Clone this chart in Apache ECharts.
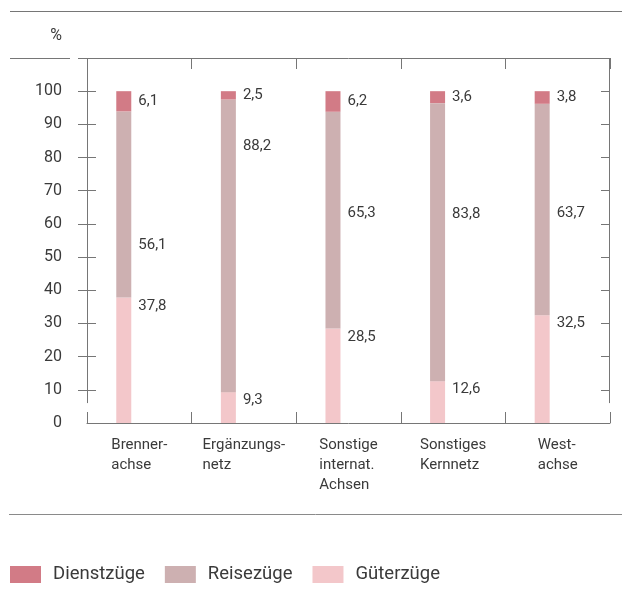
<!DOCTYPE html>
<html>
<head>
<meta charset="utf-8">
<script src="https://cdn.jsdelivr.net/npm/echarts@6/dist/echarts.min.js"></script>
<style>
  html, body { margin: 0; padding: 0; background: #fff; }
  #chart { width: 622px; height: 614px; }
</style>
</head>
<body>
<div id="chart"></div>
<script>
// Anteile der Zugarten je Netzteil, in Prozent
const categories = ['Brenner-\nachse', 'Ergänzungs-\nnetz', 'Sonstige\ninternat.\nAchsen', 'Sonstiges\nKernnetz', 'West-\nachse'];
const gueterzuege = [37.8, 9.3, 28.5, 12.6, 32.5];
const reisezuege  = [56.1, 88.2, 65.3, 83.8, 63.7];
const dienstzuege = [6.1, 2.5, 6.2, 3.6, 3.8];
const yTicks = [0, 10, 20, 30, 40, 50, 60, 70, 80, 90, 100];

const COL_DIENST = '#d27b86';
const COL_REISE = '#cdb0b1';
const COL_GUETER = '#f3c7ca';
const LINE = '#767676';
const TEXT = '#3a3a3a';
const FONT = 'Roboto, "Noto Sans", sans-serif';

const GRID = { left: 87, right: 12, top: 58, bottom: 191 };
const W = 622, H = 614;

// where the Reisezüge value sits along its segment (fraction from the top)
const reiseLabelPos = ['72%', '16%', '47%', '40%', '52%'];

const fmt = v => String(v).replace('.', ',');
const labelBase = { show: true, fontFamily: FONT, fontSize: 15, color: TEXT, formatter: p => fmt(p.value) };

const innerTicks = yTicks.filter(v => v > 0);
const outerTicks = innerTicks.concat([110]);

const chart = echarts.init(document.getElementById('chart'), null, { renderer: 'canvas' });

const option = {
  animation: false,
  backgroundColor: '#fff',
  textStyle: { fontFamily: FONT },
  grid: GRID,
  legend: {
    data: ['Dienstzüge', 'Reisezüge', 'Güterzüge'],
    left: 10, top: 565,
    icon: 'rect', itemWidth: 31, itemHeight: 17, itemGap: 20,
    padding: 0,
    textStyle: { fontFamily: FONT, fontSize: 18.5, color: TEXT, padding: [0, 0, 0, 7] }
  },
  xAxis: [
    {
      type: 'category', position: 'bottom', data: categories,
      axisLine: { onZero: false, lineStyle: { color: LINE, width: 1 } },
      axisTick: { show: true, inside: true, length: 11, lineStyle: { color: LINE } },
      axisLabel: {
        interval: 0, margin: 12,
        formatter: v => v.split('\n').map(s => '{l|' + s + '}').join('\n'),
        rich: { l: { align: 'left', fontFamily: FONT, fontSize: 15, lineHeight: 20, color: TEXT } }
      },
      splitLine: { show: false }
    },
    {
      type: 'category', position: 'top', data: categories,
      axisLine: { onZero: false, lineStyle: { color: LINE, width: 1 } },
      axisTick: { show: true, inside: true, length: 11, lineStyle: { color: LINE } },
      axisLabel: { show: false },
      splitLine: { show: false }
    }
  ],
  yAxis: [
    {
      type: 'value', position: 'left', min: 0, max: 110, interval: 10,
      name: '%', nameLocation: 'end', nameGap: 14,
      nameTextStyle: { fontFamily: FONT, fontSize: 16, color: TEXT, align: 'right', padding: [0, 25, 0, 0] },
      axisLine: { show: false },
      axisTick: { show: true, inside: false, length: 9, customValues: outerTicks, lineStyle: { color: LINE } },
      axisLabel: { customValues: yTicks, margin: 25, fontFamily: FONT, fontSize: 16, color: TEXT },
      splitLine: { show: false }
    },
    {
      type: 'value', position: 'left', min: 0, max: 110, interval: 10,
      axisLine: { show: false },
      axisTick: { show: true, inside: true, length: 9, customValues: innerTicks, lineStyle: { color: LINE } },
      axisLabel: { show: false },
      splitLine: { show: false }
    },
    {
      type: 'value', position: 'right', min: 0, max: 110, interval: 10,
      axisLine: { show: false },
      axisTick: { show: true, inside: true, length: 9, customValues: innerTicks, lineStyle: { color: LINE } },
      axisLabel: { show: false },
      splitLine: { show: false }
    }
  ],
  series: [
    {
      name: 'Güterzüge', type: 'bar', stack: 'total', barWidth: 15, barGap: '107%',
      itemStyle: { color: COL_GUETER },
      data: gueterzuege,
      label: Object.assign({}, labelBase, { position: ['100%', 0], offset: [7, 1], align: 'left', verticalAlign: 'top' })
    },
    {
      name: 'Reisezüge', type: 'bar', stack: 'total', barWidth: 15, barGap: '107%',
      itemStyle: { color: COL_REISE },
      data: reisezuege.map((v, i) => ({
        value: v,
        label: { position: ['100%', reiseLabelPos[i]] }
      })),
      label: Object.assign({}, labelBase, { offset: [7, 0], align: 'left', verticalAlign: 'middle' })
    },
    {
      name: 'Dienstzüge', type: 'bar', stack: 'total', barWidth: 15, barGap: '107%',
      itemStyle: { color: COL_DIENST },
      data: dienstzuege,
      label: Object.assign({}, labelBase, { position: 'right', distance: 7 })
    },
    {
      // empty neighbour column so the stacked bar sits left of the band centre
      name: 'pad', type: 'bar', stack: 'pad', barWidth: 15, barGap: '107%',
      silent: true, data: categories.map(() => null)
    }
  ]
};

chart.setOption(option);

// frame lines: vertical axis lines stop short of the baseline, plus header / footer rules
const yTop = chart.convertToPixel({ yAxisIndex: 0 }, 110);
const yBreak = chart.convertToPixel({ yAxisIndex: 0 }, 6);
const xL = GRID.left, xR = W - GRID.right;
const rule = (x1, y1, x2, y2, color) => ({
  type: 'line', silent: true,
  shape: { x1, y1, x2, y2 },
  style: { stroke: color || LINE, lineWidth: 1 }
});
chart.setOption({
  graphic: [
    rule(xL + 0.5, yTop, xL + 0.5, yBreak),
    rule(xR - 0.5, yTop, xR - 0.5, yBreak),
    rule(10, 11.5, W, 11.5),
    rule(10, 58.5, 70, 58.5),
    rule(9, 514.5, W, 514.5, '#8a8a8a')
  ]
});
</script>
</body>
</html>
